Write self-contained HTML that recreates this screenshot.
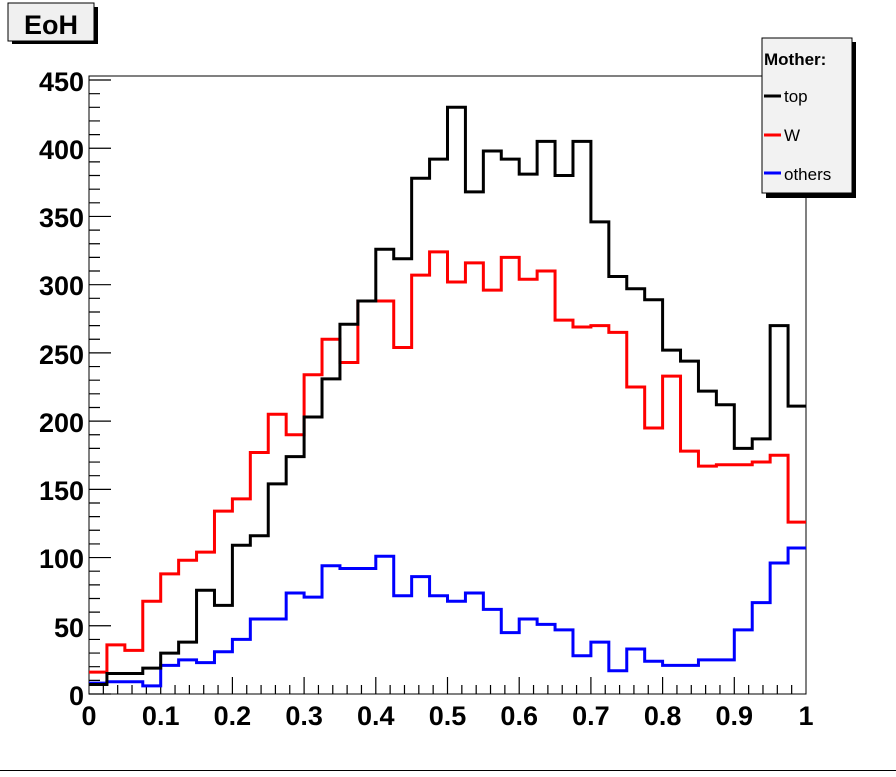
<!DOCTYPE html>
<html><head><meta charset="utf-8"><style>
body{margin:0;background:#fff;width:896px;height:772px;overflow:hidden;font-family:"Liberation Sans",sans-serif}
</style></head><body>
<svg width="896" height="772" viewBox="0 0 896 772" xmlns="http://www.w3.org/2000/svg" font-family="Liberation Sans, sans-serif">
<rect width="896" height="772" fill="#fff"/>
<rect x="12" y="7" width="86" height="37" fill="#000"/>
<rect x="8" y="3" width="86" height="38" fill="#f0f0f0" stroke="#000" stroke-width="1"/>
<text x="51" y="34" font-size="27" font-weight="bold" text-anchor="middle">EoH</text>
<rect x="89" y="76" width="717" height="618" fill="none" stroke="#000" stroke-width="1"/>
<g transform="translate(89,694) scale(1,-1.3644)" stroke="#000" fill="none">
<path vector-effect="non-scaling-stroke" stroke-width="1.2" d="M0,0h22M0,50h22M0,100h22M0,150h22M0,200h22M0,250h22M0,300h22M0,350h22M0,400h22M0,450h22"/>
<path vector-effect="non-scaling-stroke" stroke-width="1.2" d="M0,10h11M0,20h11M0,30h11M0,40h11M0,60h11M0,70h11M0,80h11M0,90h11M0,110h11M0,120h11M0,130h11M0,140h11M0,160h11M0,170h11M0,180h11M0,190h11M0,210h11M0,220h11M0,230h11M0,240h11M0,260h11M0,270h11M0,280h11M0,290h11M0,310h11M0,320h11M0,330h11M0,340h11M0,360h11M0,370h11M0,380h11M0,390h11M0,410h11M0,420h11M0,430h11M0,440h11"/>
</g>
<g transform="translate(89,694) scale(717,1)" stroke="#000" fill="none">
<path vector-effect="non-scaling-stroke" stroke-width="1.2" d="M0.1,0v-17M0.2,0v-17M0.3,0v-17M0.4,0v-17M0.5,0v-17M0.6,0v-17M0.7,0v-17M0.8,0v-17M0.9,0v-17"/>
<path vector-effect="non-scaling-stroke" stroke-width="1.2" d="M0.02,0v-9M0.04,0v-9M0.06,0v-9M0.08,0v-9M0.12,0v-9M0.14,0v-9M0.16,0v-9M0.18,0v-9M0.22,0v-9M0.24,0v-9M0.26,0v-9M0.28,0v-9M0.32,0v-9M0.34,0v-9M0.36,0v-9M0.38,0v-9M0.42,0v-9M0.44,0v-9M0.46,0v-9M0.48,0v-9M0.52,0v-9M0.54,0v-9M0.56,0v-9M0.58,0v-9M0.62,0v-9M0.64,0v-9M0.66,0v-9M0.68,0v-9M0.72,0v-9M0.74,0v-9M0.76,0v-9M0.78,0v-9M0.82,0v-9M0.84,0v-9M0.86,0v-9M0.88,0v-9M0.92,0v-9M0.94,0v-9M0.96,0v-9M0.98,0v-9"/>
</g>
<g font-size="27" font-weight="bold" text-anchor="end">
<text x="84" y="705">0</text>
<text x="84" y="637">50</text>
<text x="84" y="568">100</text>
<text x="84" y="500">150</text>
<text x="84" y="432">200</text>
<text x="84" y="364">250</text>
<text x="84" y="295">300</text>
<text x="84" y="227">350</text>
<text x="84" y="159">400</text>
<text x="84" y="91">450</text>
</g>
<g font-size="27" font-weight="bold" text-anchor="middle">
<text x="89" y="725">0</text>
<text x="160.7" y="725">0.1</text>
<text x="232.4" y="725">0.2</text>
<text x="304.1" y="725">0.3</text>
<text x="375.8" y="725">0.4</text>
<text x="447.5" y="725">0.5</text>
<text x="519.2" y="725">0.6</text>
<text x="590.9" y="725">0.7</text>
<text x="662.6" y="725">0.8</text>
<text x="734.3" y="725">0.9</text>
<text x="806" y="725">1</text>
</g>
<g transform="translate(89,694) scale(17.925,-1.3644)" fill="none" stroke-width="3" stroke-linejoin="miter">
<path vector-effect="non-scaling-stroke" stroke="#00f" d="M0,8 H1 V9 H3 V6 H4 V21 H5 V25 H6 V23 H7 V31 H8 V40 H9 V55 H11 V74 H12 V71 H13 V94 H14 V92 H16 V101 H17 V72 H18 V86 H19 V72 H20 V68 H21 V74 H22 V62 H23 V45 H24 V55 H25 V51 H26 V47 H27 V28 H28 V38 H29 V17 H30 V33 H31 V24 H32 V21 H34 V25 H36 V47 H37 V67 H38 V96 H39 V107 H40"/>
<path vector-effect="non-scaling-stroke" stroke="#f00" d="M0,16 H1 V36 H2 V32 H3 V68 H4 V88 H5 V98 H6 V104 H7 V134 H8 V143 H9 V177 H10 V205 H11 V190 H12 V234 H13 V260 H14 V243 H15 V288 H17 V254 H18 V307 H19 V324 H20 V302 H21 V316 H22 V296 H23 V320 H24 V304 H25 V310 H26 V274 H27 V269 H28 V270 H29 V265 H30 V225 H31 V195 H32 V233 H33 V178 H34 V167 H35 V168 H37 V170 H38 V175 H39 V126 H40"/>
<path vector-effect="non-scaling-stroke" stroke="#000" d="M0,7 H1 V15 H3 V19 H4 V30 H5 V38 H6 V76 H7 V65 H8 V109 H9 V116 H10 V154 H11 V174 H12 V203 H13 V231 H14 V271 H15 V288 H16 V326 H17 V319 H18 V378 H19 V392 H20 V430 H21 V368 H22 V398 H23 V392 H24 V381 H25 V405 H26 V380 H27 V405 H28 V346 H29 V306 H30 V297 H31 V289 H32 V252 H33 V244 H34 V222 H35 V212 H36 V180 H37 V187 H38 V270 H39 V211 H40"/>
</g>
<rect x="766" y="42" width="90" height="156" fill="#000"/>
<rect x="762" y="38" width="90" height="155" fill="#f2f2f2" stroke="#000" stroke-width="1"/>
<text x="764" y="65" font-size="17" font-weight="bold">Mother:</text>
<line x1="764" y1="96" x2="781" y2="96" stroke="#000" stroke-width="3"/>
<text x="784" y="102" font-size="17">top</text>
<line x1="764" y1="135" x2="781" y2="135" stroke="#f00" stroke-width="3"/>
<text x="784" y="141" font-size="17">W</text>
<line x1="764" y1="173" x2="781" y2="173" stroke="#00f" stroke-width="3"/>
<text x="784" y="180" font-size="17">others</text>
<line x1="0" y1="770.5" x2="896" y2="770.5" stroke="#000" stroke-width="1"/>
</svg>
</body></html>
